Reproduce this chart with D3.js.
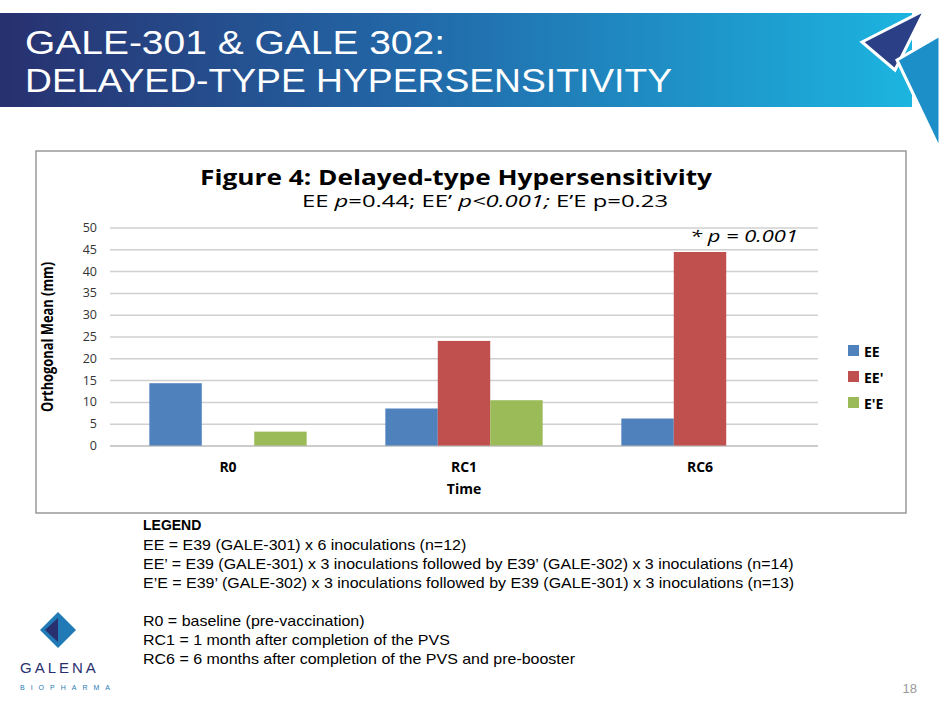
<!DOCTYPE html><html><head><meta charset="utf-8"><script src="https://d3js.org/d3.v7.min.js"></script>
<style>body{margin:0;background:#fff}svg{display:block}</style></head><body><svg id="s" width="940" height="705"></svg>
<script>
const categories=["R0","RC1","RC6"];
const seriesNames=["EE","EE'","E'E"];
const EE=[14.4,8.6,6.3];
const EEp=[0,24.1,44.5];
const EpE=[3.3,10.5,0];
const yTicks=[0,5,10,15,20,25,30,35,40,45,50];
const colors=["#4f81bd","#c0504d","#9bbb59"];
const series=[EE,EEp,EpE];
const legendLines=["EE = E39 (GALE-301) x 6 inoculations (n=12)","EE’ = E39 (GALE-301) x 3 inoculations followed by E39’ (GALE-302) x 3 inoculations (n=14)","E’E = E39’ (GALE-302) x 3 inoculations followed by E39 (GALE-301) x 3 inoculations (n=13)","","R0 = baseline (pre-vaccination)","RC1 = 1 month after completion of the PVS","RC6 = 6 months after completion of the PVS and pre-booster"];
const svg=d3.select("#s");
const defs=svg.append("defs");
const g=defs.append("linearGradient").attr("id","bg");
g.append("stop").attr("offset","0").attr("stop-color","#28306f");
g.append("stop").attr("offset","0.45").attr("stop-color","#2268a8");
g.append("stop").attr("offset","1").attr("stop-color","#1cb4e0");
svg.append("rect").attr("x",0).attr("y",13).attr("width",912).attr("height",94).attr("fill","url(#bg)");
svg.append("path").attr("d","M862,42 L925,10 L895,70 Z").attr("fill","#2a3f85").attr("stroke","#fff").attr("stroke-width",3);
svg.append("path").attr("d","M897,60 L940,35 L940,150 Z").attr("fill","#1c8fc8").attr("stroke","#fff").attr("stroke-width",3);
const tf="Liberation Sans, Arial, sans-serif";
svg.append("text").attr("x",25).attr("y",54).attr("fill","#fff").attr("font-family",tf).attr("font-size",34).attr("textLength",420).attr("lengthAdjust","spacingAndGlyphs").text("GALE-301 & GALE 302:");
svg.append("text").attr("x",25).attr("y",92).attr("fill","#fff").attr("font-family",tf).attr("font-size",34).attr("textLength",647).attr("lengthAdjust","spacingAndGlyphs").text("DELAYED-TYPE HYPERSENSITIVITY");
svg.append("rect").attr("x",36).attr("y",151).attr("width",870).attr("height",362).attr("fill","#fff").attr("stroke","#999").attr("stroke-width",1.5);
const cf="Open Sans, Lato, sans-serif";
svg.append("text").attr("x",200).attr("y",185).attr("font-family",cf).attr("font-weight","bold").attr("font-size",22).attr("textLength",512).attr("lengthAdjust","spacingAndGlyphs").text("Figure 4: Delayed-type Hypersensitivity");
const st=svg.append("text").attr("x",302).attr("y",207).attr("font-family",cf).attr("font-size",16).attr("textLength",366).attr("lengthAdjust","spacingAndGlyphs");
st.append("tspan").text("EE ");st.append("tspan").attr("font-style","italic").text("p");st.append("tspan").text("=0.44; EE’ ");st.append("tspan").attr("font-style","italic").text("p<0.001;");st.append("tspan").text(" E’E p=0.23");
const y=d3.scaleLinear().domain([0,50]).range([446,228]);
const x0=d3.scaleBand().domain(categories).range([110,818]);
const x1=d3.scaleBand().domain(d3.range(3)).range([0,x0.bandwidth()]).paddingOuter(0.75).paddingInner(0);
svg.append("g").selectAll("line").data(yTicks).join("line").attr("x1",110).attr("x2",818).attr("y1",d=>y(d)).attr("y2",d=>y(d)).attr("stroke","#d0d0d0").attr("stroke-width",1.5);
svg.append("g").selectAll("text").data(yTicks).join("text").attr("x",97).attr("y",d=>y(d)+4).attr("text-anchor","end").attr("font-family",cf).attr("font-size",12.5).attr("fill","#333").text(d=>d);
series.forEach((s,i)=>{svg.append("g").selectAll("rect").data(s).join("rect").attr("x",(d,j)=>x0(categories[j])+x1(i)).attr("width",x1.bandwidth()).attr("y",d=>y(d)).attr("height",d=>y(0)-y(d)).attr("fill",colors[i]);});
svg.append("line").attr("x1",110).attr("x2",818).attr("y1",y(0)).attr("y2",y(0)).attr("stroke","#bbb");
svg.append("g").selectAll("text").data(categories).join("text").attr("x",d=>x0(d)+x0.bandwidth()/2).attr("y",472).attr("text-anchor","middle").attr("font-family",cf).attr("font-weight","bold").attr("font-size",14).text(d=>d);
svg.append("text").attr("x",464).attr("y",494).attr("text-anchor","middle").attr("font-family",cf).attr("font-weight","bold").attr("font-size",14).text("Time");
svg.append("text").attr("transform","translate(53,337) rotate(-90)").attr("text-anchor","middle").attr("font-family",cf).attr("font-weight","bold").attr("font-size",16).attr("textLength",150).attr("lengthAdjust","spacingAndGlyphs").text("Orthogonal Mean (mm)");
svg.append("text").attr("x",690).attr("y",242).attr("font-family",cf).attr("font-style","italic").attr("font-size",17).attr("textLength",108).attr("lengthAdjust","spacingAndGlyphs").text("* p = 0.001");
seriesNames.forEach((n,i)=>{const yy=351+i*26;svg.append("rect").attr("x",848).attr("y",yy-6).attr("width",11).attr("height",11).attr("fill",colors[i]);svg.append("text").attr("x",864).attr("y",yy+6).attr("font-family",cf).attr("font-weight","bold").attr("font-size",14).text(n);});
svg.append("text").attr("x",143).attr("y",530).attr("font-family",tf).attr("font-weight","bold").attr("font-size",14).text("LEGEND");
svg.append("g").selectAll("text").data(legendLines).join("text").attr("x",143).attr("y",(d,i)=>550+i*19).attr("font-family",tf).attr("font-size",15).text(d=>d)
  .each(function(d){if(d){const l=this.getComputedTextLength();d3.select(this).attr("textLength",l*1.065).attr("lengthAdjust","spacingAndGlyphs");}});
svg.append("text").attr("x",917).attr("y",693).attr("text-anchor","end").attr("font-family",tf).attr("font-size",13).attr("fill","#999").text("18");
svg.append("path").attr("d","M40,630 L58,612 L76,630 L58,648 Z").attr("fill","#1f7ab5");
svg.append("path").attr("d","M45,630 L58,618 L58,642 Z").attr("fill","#28306f");
svg.append("text").attr("x",20).attr("y",673).attr("font-family",tf).attr("font-size",15).attr("letter-spacing",3).attr("fill","#28306f").text("GALENA");
svg.append("text").attr("x",20).attr("y",690).attr("font-family",tf).attr("font-size",7).attr("letter-spacing",6).attr("fill","#1f7ab5").text("BIOPHARMA");
</script></body></html>
